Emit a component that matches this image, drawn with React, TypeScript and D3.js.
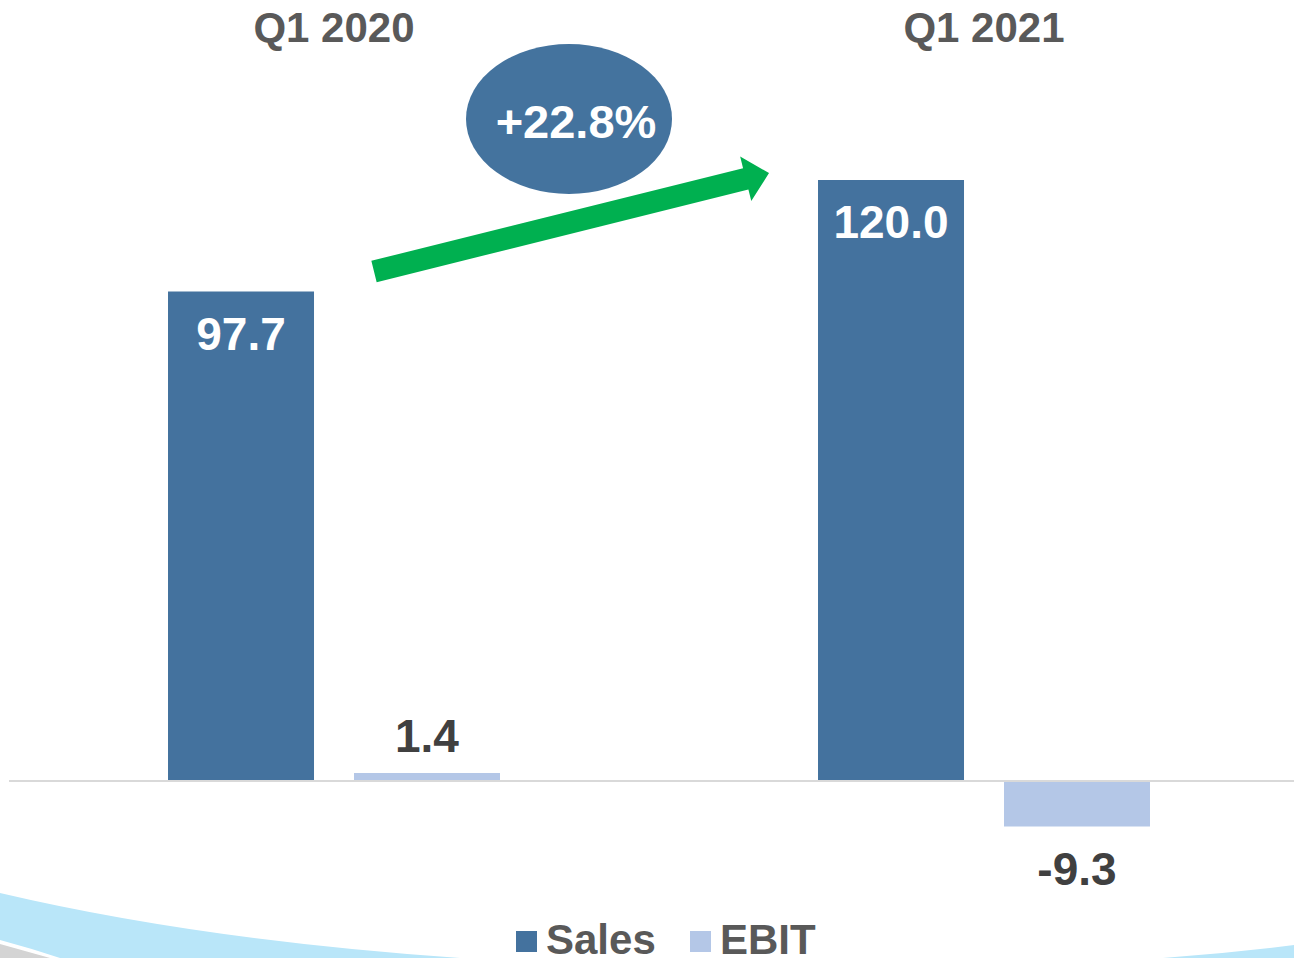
import * as d3 from "d3";

const categories = ["Q1 2020", "Q1 2021"];
const seriesNames = ["Sales", "EBIT"];
const salesValues = [97.7, 120.0];
const ebitValues = [1.4, -9.3];
const growthLabel = "+22.8%";

const colors = { Sales: "#44729E", EBIT: "#B4C7E7" };
const W = 1294;
const H = 958;
const FONT = "'Liberation Sans', Arial, sans-serif";

export default function App() {
  const baseY = 780;
  const x0 = d3.scaleBand().domain(categories).range([9, 1309]).padding(0);
  const x1 = d3.scaleBand().domain(seriesNames).range([0, x0.bandwidth()])
    .paddingInner(0.215).paddingOuter(0.855);
  const y = d3.scaleLinear().domain([0, 120]).range([baseY, baseY - 600]);
  const fmt = (v: number) => d3.format(".1f")(v).replace("\u2212", "-");

  const rows = categories.map((c, i) => ({ cat: c, Sales: salesValues[i], EBIT: ebitValues[i] }));
  const bw = x1.bandwidth();

  // growth arrow between the two sales bars
  const tail: [number, number] = [x0(categories[0])! + x1("Sales")! + bw + 60, y(salesValues[0]) - 20];
  const tip: [number, number] = [x0(categories[1])! + x1("Sales")! - 49, y(salesValues[1]) - 7];
  const dx = tip[0] - tail[0], dy = tip[1] - tail[1];
  const len = Math.hypot(dx, dy);
  const ux = dx / len, uy = dy / len;
  const nx = -uy, ny = ux;
  const headLen = 24, shaftW = 11, headW = 23;
  const hb = [tip[0] - ux * headLen, tip[1] - uy * headLen];
  const arrowPts = [
    [tail[0] + nx * shaftW, tail[1] + ny * shaftW],
    [hb[0] + nx * shaftW, hb[1] + ny * shaftW],
    [hb[0] + nx * headW, hb[1] + ny * headW],
    tip,
    [hb[0] - nx * headW, hb[1] - ny * headW],
    [hb[0] - nx * shaftW, hb[1] - ny * shaftW],
    [tail[0] - nx * shaftW, tail[1] - ny * shaftW],
  ];
  const arrowPath = d3.line()(arrowPts as [number, number][]) + "Z";

  const ellCx = (x0(categories[0])! + x1("Sales")! + bw + x0(categories[1])! + x1("Sales")!) / 2 + 3;
  const ellCy = y(salesValues[1]) - 61;

  const legendStart = W / 2 - 131;
  const legendItems = [
    { key: "Sales", sx: legendStart },
    { key: "EBIT", sx: legendStart + 174 },
  ];

  return (
    <svg width={W} height={H} style={{ position: "absolute", left: 0, top: 0, background: "#fff" }}
      fontFamily={FONT}>
      {/* decorative swoosh */}
      <path d="M0,944 L0,958 L50,958 Q25,951 0,944 Z" fill="#D4D4D4" />
      <path d="M0,893 Q200,940 460,958 L60,958 Q30,948 0,940 Z" fill="#B9E6F9" />
      <path d="M1163,958 Q1230,953 1294,945 L1294,958 Z" fill="#B9E6F9" />

      {/* category headers */}
      {categories.map(c => (
        <text key={c} x={x0(c)! + x0.bandwidth() / 2} y={42} textAnchor="middle"
          fontSize={42} fontWeight="bold" fill="#595959">{c}</text>
      ))}

      {/* bars */}
      {rows.map(r => (
        <g key={r.cat} transform={`translate(${x0(r.cat)},0)`}>
          {seriesNames.map(s => {
            const v = r[s as "Sales" | "EBIT"];
            const top = Math.min(y(v), y(0));
            const h = Math.abs(y(v) - y(0));
            const cx = x1(s)! + bw / 2;
            let ly: number, fill: string;
            if (s === "Sales") { ly = y(v) + 58; fill = "#FFFFFF"; }
            else if (v >= 0) { ly = y(v) - 21; fill = "#404040"; }
            else { ly = y(v) + 58; fill = "#404040"; }
            return (
              <g key={s}>
                <rect x={x1(s)} y={top} width={bw} height={h} fill={colors[s as "Sales" | "EBIT"]} />
                <text x={cx} y={ly} textAnchor="middle" fontSize={46} fontWeight="bold" fill={fill}>
                  {fmt(v)}
                </text>
              </g>
            );
          })}
        </g>
      ))}

      {/* zero axis */}
      <line x1={9} x2={W} y1={y(0) + 1} y2={y(0) + 1} stroke="#D9D9D9" strokeWidth={2} />

      {/* growth annotation */}
      <path d={arrowPath} fill="#00B050" />
      <ellipse cx={ellCx} cy={ellCy} rx={103} ry={75} fill="#44739E" />
      <text x={ellCx + 7} y={ellCy + 19} textAnchor="middle" fontSize={47} fontWeight="bold" fill="#FFFFFF">
        {growthLabel}
      </text>

      {/* legend */}
      {legendItems.map(it => (
        <g key={it.key}>
          <rect x={it.sx} y={931} width={21} height={21} fill={colors[it.key as "Sales" | "EBIT"]} />
          <text x={it.sx + 30} y={954} fontSize={42} fontWeight="bold" fill="#595959">{it.key}</text>
        </g>
      ))}
    </svg>
  );
}
